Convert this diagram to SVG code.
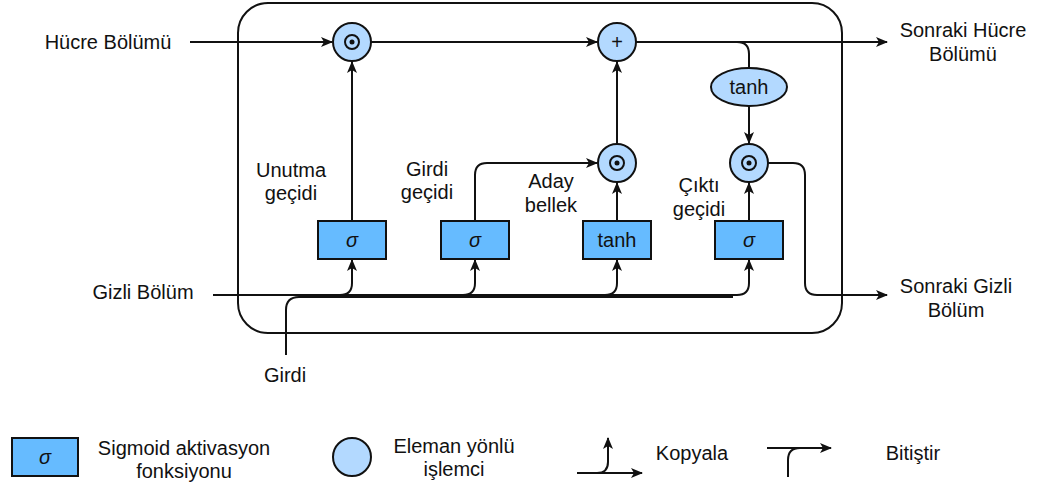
<svg xmlns="http://www.w3.org/2000/svg" width="1046" height="488" viewBox="0 0 1046 488">
<style>
text{font-family:"Liberation Sans",Arial,sans-serif;font-size:20px;fill:#111;text-anchor:middle}
.sig{font-style:italic}
.box{fill:#66BBFF;stroke:#111;stroke-width:2}
.op{fill:#B3D9FF;stroke:#111;stroke-width:2}
.ln{fill:none;stroke:#111;stroke-width:2}
.ar{fill:none;stroke:#111;stroke-width:2;marker-end:url(#ah)}
</style>
<defs>
<marker id="ah" viewBox="0 0 12 10" refX="11" refY="5" markerWidth="12" markerHeight="10" markerUnits="userSpaceOnUse" orient="auto">
<path d="M0,0 L12,5 L0,10 L3,5 z" fill="#111"/>
</marker>
</defs>
<rect x="238" y="3" width="604" height="330" rx="30" class="ln"/>
<g id="connectors">
<path class="ar" d="M190,42 H332"/>
<path class="ar" d="M371,42 H597"/>
<path class="ar" d="M636,42 H887"/>
<path class="ln" d="M737,42 Q749,42 749,54 V68"/>
<path class="ar" d="M749,106 V143"/>
<path class="ar" d="M352,221 V62"/>
<path class="ar" d="M617,221 V183"/>
<path class="ar" d="M617,144 V62"/>
<path class="ar" d="M749,221 V183"/>
<path class="ar" d="M475,221 V175 Q475,163 487,163 H597"/>
<path class="ar" d="M768,163 H793 Q805,163 805,175 V283 Q805,295 817,295 H887"/>
<path class="ar" d="M213,295 H737 Q749,295 749,283 V260"/>
<path class="ar" d="M340,295 Q352,295 352,283 V260"/>
<path class="ar" d="M463,295 Q475,295 475,283 V260"/>
<path class="ar" d="M605,295 Q617,295 617,283 V260"/>
<path class="ln" d="M286,355 V310 Q286,297 299,297 H733"/>
</g>
<g id="forget-mul"><circle cx="352" cy="42" r="19" class="op"/><circle cx="352" cy="42" r="7" class="ln"/><circle cx="352" cy="42" r="2.5" fill="#111"/></g>
<g id="plus"><circle cx="617" cy="42" r="19" class="op"/><text x="617" y="49" style="font-size:20px">+</text></g>
<g id="cand-mul"><circle cx="617" cy="163" r="19" class="op"/><circle cx="617" cy="163" r="7" class="ln"/><circle cx="617" cy="163" r="2.5" fill="#111"/></g>
<g id="out-mul"><circle cx="749" cy="163" r="19" class="op"/><circle cx="749" cy="163" r="7" class="ln"/><circle cx="749" cy="163" r="2.5" fill="#111"/></g>
<g id="tanh-cell"><ellipse cx="749" cy="87" rx="38" ry="19" class="op"/><text x="749" y="94">tanh</text></g>
<g id="forget-gate"><rect x="318" y="221" width="68" height="38" class="box"/><text class="sig" x="352" y="247">σ</text></g>
<g id="input-gate"><rect x="441" y="221" width="68" height="38" class="box"/><text class="sig" x="475" y="247">σ</text></g>
<g id="cand-tanh"><rect x="583" y="221" width="68" height="38" class="box"/><text x="617" y="247">tanh</text></g>
<g id="output-gate"><rect x="715" y="221" width="68" height="38" class="box"/><text class="sig" x="749" y="247">σ</text></g>
<g id="labels">
<text x="108" y="49">Hücre Bölümü</text>
<text x="963" y="37">Sonraki Hücre</text>
<text x="963" y="61">Bölümü</text>
<text x="956" y="293">Sonraki Gizli</text>
<text x="956" y="317">Bölüm</text>
<text x="143" y="299">Gizli Bölüm</text>
<text x="285" y="382">Girdi</text>
<text x="291" y="177">Unutma</text>
<text x="291" y="200">geçidi</text>
<text x="427" y="176">Girdi</text>
<text x="427" y="199">geçidi</text>
<text x="551" y="188">Aday</text>
<text x="551" y="212">bellek</text>
<text x="699" y="192">Çıktı</text>
<text x="699" y="216">geçidi</text>
</g>
<g id="legend">
<rect x="12" y="438" width="66" height="38" class="box"/><text class="sig" x="45" y="464">σ</text>
<text x="184" y="455">Sigmoid aktivasyon</text>
<text x="184" y="478">fonksiyonu</text>
<circle cx="352" cy="457" r="19" class="op"/>
<text x="454" y="453">Eleman yönlü</text>
<text x="454" y="476">işlemci</text>
<path class="ar" d="M577,473 H642"/>
<path class="ar" d="M597,473 Q608,473 608,462 V438"/>
<text x="692" y="460">Kopyala</text>
<path class="ar" d="M767,448 H831"/>
<path class="ln" d="M788,477 V460 Q788,448 800,448"/>
<text x="913" y="460">Bitiştir</text>
</g>
</svg>
